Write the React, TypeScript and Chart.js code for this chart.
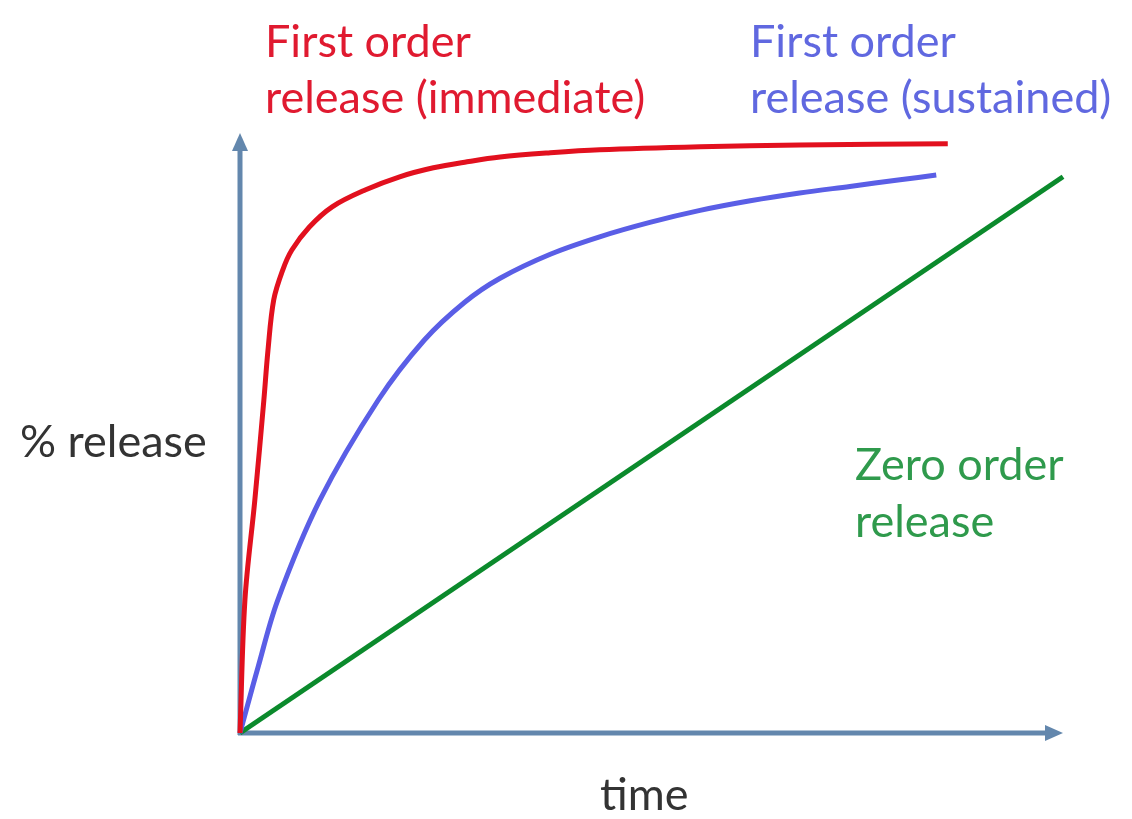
import React, { useEffect, useRef } from "react";
import { Chart, registerables } from "chart.js";

Chart.register(...registerables);

// time (0..100 relative units) and % release values
const immediateTime = [0, 0.6, 1.8, 2.9, 3.4, 4.1, 5.2, 6.3, 8.4, 11.2, 15.2, 19.4, 23.5, 27.6, 31.6, 37.7, 43.7, 55.9, 68, 86];
const immediateRelease = [0, 22.2, 38.8, 55.5, 63.8, 72.2, 77.2, 80.5, 84.3, 87.7, 90.5, 92.7, 94.2, 95.2, 96, 96.7, 97.2, 97.7, 98, 98.2];

const sustainedTime = [0, 2.2, 4.6, 9.7, 16.8, 22.4, 27.3, 31.6, 37.7, 43.7, 49.8, 55.9, 62, 68, 74.1, 80.2, 84.6];
const sustainedRelease = [0, 11, 22.2, 38.8, 55.5, 65.5, 71.8, 75.8, 79.8, 82.7, 85.1, 87.1, 88.7, 90, 91.1, 92.2, 93];

const zeroTime = [0, 100];
const zeroRelease = [0, 92.7];

const yAxisLabel = "% release";
const xAxisLabel = "time";
const immediateLabel = ["First order", "release (immediate)"];
const sustainedLabel = ["First order", "release (sustained)"];
const zeroLabel = ["Zero order", "release"];

const RED = "#e2101e";
const BLUE = "#5a5ee6";
const GREEN = "#0b8a2c";
const AXIS = "#6387ad";
const FONT = "Lato, 'Open Sans', sans-serif";

function pts(xs: number[], ys: number[]) {
  return xs.map((x, i) => ({ x, y: ys[i] }));
}

const decorPlugin = {
  id: "decor",
  beforeDatasetsDraw(chart: any) {
    const ctx = chart.ctx;
    const xs = chart.scales.x;
    const ys = chart.scales.y;
    const ox = xs.getPixelForValue(0);
    const oy = ys.getPixelForValue(0);
    const top = ys.getPixelForValue(100);
    const right = xs.getPixelForValue(100);
    ctx.save();
    ctx.strokeStyle = AXIS;
    ctx.fillStyle = AXIS;
    ctx.lineWidth = 5;
    ctx.lineCap = "butt";
    // y axis
    ctx.beginPath();
    ctx.moveTo(ox, oy + 2);
    ctx.lineTo(ox, top + 14);
    ctx.stroke();
    ctx.beginPath();
    ctx.moveTo(ox, top);
    ctx.lineTo(ox - 8, top + 18);
    ctx.lineTo(ox + 8, top + 18);
    ctx.closePath();
    ctx.fill();
    // x axis
    ctx.beginPath();
    ctx.moveTo(ox - 2, oy);
    ctx.lineTo(right - 14, oy);
    ctx.stroke();
    ctx.beginPath();
    ctx.moveTo(right, oy);
    ctx.lineTo(right - 18, oy - 8);
    ctx.lineTo(right - 18, oy + 8);
    ctx.closePath();
    ctx.fill();
    ctx.restore();
  },
  afterDraw(chart: any) {
    const ctx = chart.ctx;
    ctx.save();
    ctx.font = `45px ${FONT}`;
    ctx.textBaseline = "alphabetic";
    ctx.textAlign = "left";
    ctx.fillStyle = "#e01a30";
    ctx.fillText(immediateLabel[0], 265, 57);
    ctx.fillText(immediateLabel[1], 265, 113);
    ctx.fillStyle = "#6068e0";
    ctx.fillText(sustainedLabel[0], 750, 57);
    ctx.fillText(sustainedLabel[1], 750, 113);
    ctx.fillStyle = "#2f9a4c";
    ctx.fillText(zeroLabel[0], 855, 480);
    ctx.fillText(zeroLabel[1], 855, 537);
    ctx.fillStyle = "#333333";
    ctx.fillText(yAxisLabel, 20, 457);
    ctx.fillText(xAxisLabel, 600, 810);
    ctx.restore();
  },
};

export default function App() {
  const ref = useRef<HTMLCanvasElement | null>(null);
  useEffect(() => {
    if (!ref.current) return;
    const chart = new Chart(ref.current, {
      type: "line",
      data: {
        datasets: [
          {
            label: "immediate",
            data: pts(immediateTime, immediateRelease),
            borderColor: RED,
            borderWidth: 5,
            pointRadius: 0,
            tension: 0.35,
          },
          {
            label: "sustained",
            data: pts(sustainedTime, sustainedRelease),
            borderColor: BLUE,
            borderWidth: 5,
            pointRadius: 0,
            tension: 0.35,
          },
          {
            label: "zero",
            data: pts(zeroTime, zeroRelease),
            borderColor: GREEN,
            borderWidth: 5,
            pointRadius: 0,
          },
        ],
      },
      options: {
        animation: false,
        responsive: false,
        clip: false as any,
        layout: { padding: { left: 240, right: 69, top: 133, bottom: 86 } },
        plugins: { legend: { display: false }, tooltip: { enabled: false } },
        scales: {
          x: { type: "linear", min: 0, max: 100, display: false },
          y: { type: "linear", min: 0, max: 100, display: false },
        },
      },
      plugins: [decorPlugin],
    });
    return () => chart.destroy();
  }, []);
  return (
    <div style={{ position: "fixed", left: 0, top: 0, width: 1132, height: 819, background: "#fff" }}>
      <canvas ref={ref} width={1132} height={819} style={{ width: 1132, height: 819 }} />
    </div>
  );
}
